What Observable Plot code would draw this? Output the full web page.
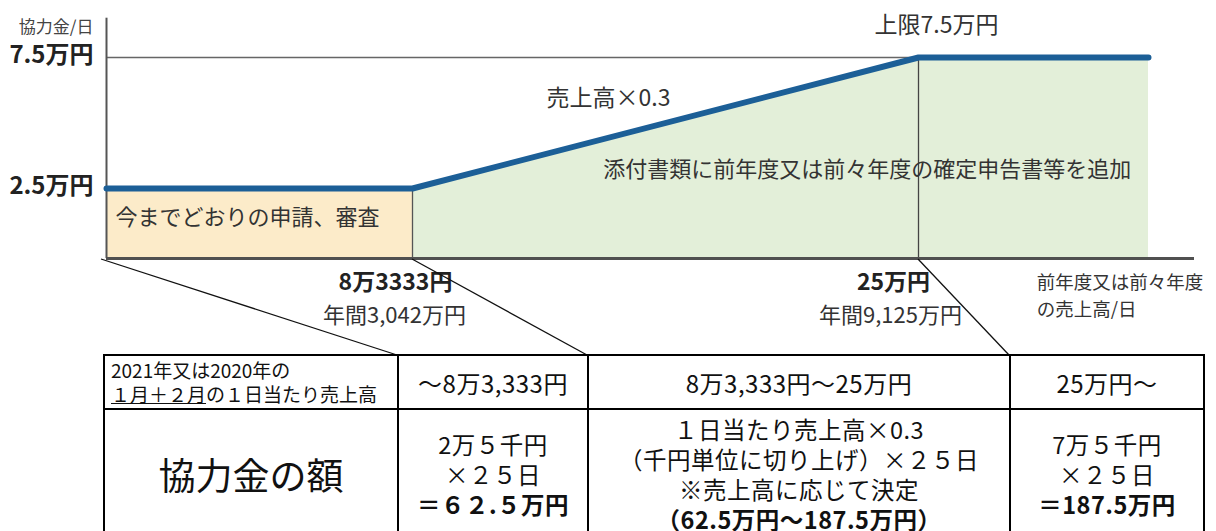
<!DOCTYPE html>
<html><head><meta charset="utf-8">
<script src="https://cdn.jsdelivr.net/npm/d3@7"></script>
<script src="https://cdn.jsdelivr.net/npm/@observablehq/plot@0.6"></script>
<style>
html,body{margin:0;padding:0;background:#fff;}
#wrap{position:relative;width:1216px;height:560px;font-family:'Noto Sans CJK JP',sans-serif;color:#222;overflow:hidden;}
#chart{position:absolute;left:0;top:0;}
#tbl{position:absolute;left:103px;top:354px;border-collapse:collapse;table-layout:fixed;}
#tbl td{border:2.5px solid #000;text-align:center;vertical-align:middle;padding:0;color:#111;white-space:nowrap;}
#tbl tr.r1 td{height:52px;font-size:24px;letter-spacing:0.5px;}
#tbl tr.r2 td{height:128px;font-size:23.5px;line-height:30px;letter-spacing:0.5px;}
#tbl tr.r1 td.head{text-align:left;font-size:19px;line-height:24px;padding-left:6px;letter-spacing:0;}
#tbl tr.r2 td.big{font-size:37px;letter-spacing:0;}
#tbl b{font-weight:700;}
</style></head>
<body><div id="wrap"><div id="chart"></div><table id="tbl"></table></div>
<script>
// ---- data (万円) ----
const salesBreaks = [0, 8.3333, 25, 32];      // 1日当たり売上高
const payPerDay   = [2.5, 2.5, 7.5, 7.5];     // 協力金/日
const yTicks = [7.5, 2.5];
const yTickLabels = ["7.5万円", "2.5万円"];
const xTicks = [8.3333, 25];
const xTickLabels = ["8万3333円", "25万円"];
const xTickAnnual = ["年間3,042万円", "年間9,125万円"];
const yAxisTitle = "協力金/日";
const xAxisTitle = ["前年度又は前々年度", "の売上高/日"];
const zoneLabels = ["今までどおりの申請、審査", "添付書類に前年度又は前々年度の確定申告書等を追加"];
const slopeLabel = "売上高×0.3";
const capLabel = "上限7.5万円";
const headerCells = ["～8万3,333円", "8万3,333円～25万円", "25万円～"];
const amountCells = [
  ["2万５千円", "×２５日", "<b>＝６２.５万円</b>"],
  ["１日当たり売上高×0.3", "（千円単位に切り上げ）×２５日", "※売上高に応じて決定", "<b>（62.5万円～187.5万円）</b>"],
  ["7万５千円", "×２５日", "<b>＝187.5万円</b>"]
];

const pts = salesBreaks.map((x, i) => ({x, y: payPerDay[i]}));
const blue = "#1c5f97";
const axisEnd = 33.4;
const colEdges = [103, 397, 587, 1009, 1203];

// the reference's axes are piecewise (non‑proportional): segment lengths as drawn
const xPiece = d3.scaleLinear().domain(salesBreaks).range([0, 306, 812, 1042]);
const yPiece = d3.scaleLinear().domain([0, 2.5, 7.5]).range([0, 70, 201]);

const plot = Plot.plot({
  width: 1216, height: 355, margin: 0,
  style: {fontFamily: "'Noto Sans CJK JP', sans-serif", color: "#333", background: "transparent", overflow: "visible"},
  x: {axis: null, transform: xPiece, domain: [0, 1042], range: [106, 1148]},
  y: {axis: null, transform: yPiece, domain: [0, 201], range: [258, 57]},
  marks: [
    Plot.areaY(pts.slice(0, 2), {x: "x", y: "y", fill: "#fcebc9"}),
    Plot.areaY(pts.slice(1), {x: "x", y: "y", fill: "#e3efd9"}),
    Plot.ruleY([7.5], {x1: 0, x2: 25, stroke: "#666", strokeWidth: 1.5}),
    Plot.ruleX([xTicks[0]], {y1: 0, y2: payPerDay[1], stroke: "#555", strokeWidth: 1.3}),
    Plot.ruleX([xTicks[1]], {y1: 0, y2: payPerDay[2], stroke: "#444", strokeWidth: 1.3}),
    Plot.ruleX([0], {y1: 0, y2: 9, stroke: "#555", strokeWidth: 2}),
    Plot.ruleY([0], {x1: 0, x2: axisEnd, stroke: "#505050", strokeWidth: 3}),
    Plot.line(pts, {x: "x", y: "y", stroke: blue, strokeWidth: 6, strokeLinejoin: "round"}),
    Plot.text(yTicks, {x: () => 0, y: d => d, text: (d, i) => yTickLabels[i], textAnchor: "end", dx: -13, dy: -2, fontSize: 24, fontWeight: "bold", fill: "#222"}),
    Plot.text([yAxisTitle], {x: () => 0, y: () => 8.65, text: d => d, textAnchor: "end", dx: -13, fontSize: 17, fill: "#444"}),
    Plot.text([zoneLabels[0]], {x: () => 0, y: () => 1.46, text: d => d, textAnchor: "start", dx: 9, fontSize: 22, fill: "#333"}),
    Plot.text([zoneLabels[1]], {x: () => 14.62, y: () => 3.19, text: d => d, textAnchor: "start", fontSize: 22, fill: "#333"}),
    Plot.text([slopeLabel], {x: () => 14.79, y: () => 5.94, text: d => d, fontSize: 23, fill: "#333"}),
    Plot.text([capLabel], {x: () => 25.55, y: () => 8.72, text: d => d, fontSize: 23, fill: "#333"}),
    Plot.text(xTicks, {x: d => d, y: () => 0, text: (d, i) => xTickLabels[i], dy: 24, fontSize: 23, fontWeight: "bold", fill: "#222"}),
    Plot.text(xTicks, {x: d => d, y: () => 0, text: (d, i) => xTickAnnual[i], dy: 57, fontSize: 22, fill: "#333"}),
    Plot.text(xAxisTitle, {x: () => 28.6, y: () => 0, text: d => d, textAnchor: "start", fontSize: 18.5, fill: "#333"})
  ]
});
document.getElementById("chart").append(plot);

const svg = d3.select(plot);
const texts = svg.selectAll("g[aria-label='text']").nodes();
function nudge(g, f) {
  d3.select(g).selectAll("text").each(function(d, i) {
    const [dx, dy] = f(i);
    const t = d3.select(this).attr("transform") || "";
    d3.select(this).attr("transform", t + ` translate(${dx},${dy})`);
  });
}
nudge(texts[6], i => [[-17, -25][i], 0]);
nudge(texts[7], i => [[-18, -28][i], 0]);
nudge(texts[8], i => [0, 25 + i * 27]);

// connector lines from chart to table (through the plot's scales)
const xs = plot.scale("x"), ys = plot.scale("y");
const px = v => xs.apply(xPiece(v)), py = v => ys.apply(yPiece(v));
[0, 8.3333, 25].forEach((v, i) => {
  svg.append("line")
    .attr("x1", px(v) - (i === 0 ? 5 : 0)).attr("y1", py(0) + 1)
    .attr("x2", colEdges[i + 1]).attr("y2", 355)
    .attr("stroke", "#111").attr("stroke-width", 1.3);
});

// table
const tbl = d3.select("#tbl");
const widths = d3.pairs(colEdges).map(([a, b]) => b - a);
const cg = tbl.append("colgroup");
widths.forEach(w => cg.append("col").style("width", w + "px"));
const r1 = tbl.append("tr").attr("class", "r1");
r1.append("td").attr("class", "head").html("2021年又は2020年の<br><u>１月＋２月</u>の１日当たり売上高");
headerCells.forEach(t => r1.append("td").text(t));
const r2 = tbl.append("tr").attr("class", "r2");
r2.append("td").attr("class", "big").text("協力金の額");
amountCells.forEach(lines => r2.append("td").html(lines.join("<br>")));
</script></body></html>
